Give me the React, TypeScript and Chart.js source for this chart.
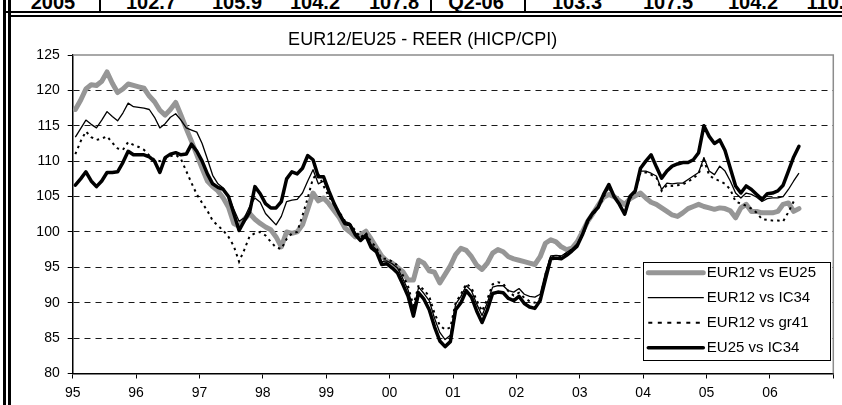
import React, { useEffect, useRef } from 'react';
import { Chart, registerables } from 'chart.js';

Chart.register(...registerables);

const FONT = 'Arial, "Liberation Sans", Helvetica, sans-serif';

const chartTitle = 'EUR12/EU25 - REER (HICP/CPI)';
const yearLabels = ['95', '96', '97', '98', '99', '00', '01', '02', '03', '04', '05', '06'];
const monthsOnAxis = 144;
const yMin = 80;
const yMax = 125;
const yStep = 5;

const seriesNames = ['EUR12 vs EU25', 'EUR12 vs IC34', 'EUR12 vs gr41', 'EU25 vs IC34'];

// monthly values, Jan 1995 .. Jun 2006
const eur12VsEu25 = [
  117.3, 118.6, 120.2, 120.8, 120.7, 121.3, 122.6, 121.0, 119.7, 120.2, 120.9, 120.7,
  120.5, 120.3, 119.2, 118.4, 117.2, 116.5, 117.3, 118.3, 116.5, 114.6, 112.8, 110.9,
  109.0, 107.2, 106.4, 105.8, 104.8, 103.5, 101.2, 100.8, 101.8, 102.6, 101.8, 101.2,
  100.7, 100.3, 99.3, 97.9, 100.0, 99.8, 100.0, 101.0, 103.2, 105.5, 104.4, 104.8,
  104.0, 103.0, 102.0, 100.6, 100.0, 99.3, 99.6, 100.1, 99.0, 97.8, 96.6, 95.9,
  95.6, 95.0, 94.4, 93.2, 93.2, 96.0, 95.6, 94.5, 94.3, 92.8, 94.0, 95.2,
  96.8, 97.7, 97.4, 96.5, 95.3, 94.7, 95.6, 97.0, 97.5, 97.2, 96.5, 96.2,
  96.0, 95.8, 95.6, 95.4, 96.5, 98.4, 98.9, 98.6, 97.9, 97.5, 97.7, 98.6,
  100.0, 101.5, 102.6, 103.8, 104.9, 105.3, 105.0, 104.4, 103.9, 104.7, 105.1, 105.5,
  104.8, 104.2, 103.9, 103.4, 102.9, 102.4, 102.2, 102.7, 103.3, 103.6, 103.9, 103.6,
  103.4, 103.2, 103.4, 103.3, 103.0, 102.0, 103.4, 103.9, 102.9, 102.9, 102.7, 102.7,
  102.7, 102.9, 103.9, 104.1, 102.9, 103.3,
];

const eur12VsIc34 = [
  113.4, 114.6, 115.8, 115.2, 114.7, 115.8, 117.0, 116.3, 115.7, 116.8, 118.2, 117.7,
  117.6, 117.5, 117.3, 116.2, 114.7, 115.3, 116.2, 116.7, 115.8, 114.7, 114.4, 114.1,
  112.5, 110.3, 108.0, 106.8, 106.2, 105.0, 103.2, 101.5, 102.0, 103.6, 104.8, 104.2,
  102.6, 101.8, 101.0, 102.2, 104.3, 104.5, 104.6, 105.5, 107.2, 108.8, 106.8, 107.2,
  105.5, 104.0, 102.8, 101.5, 101.2, 99.9, 99.0, 99.7, 98.2, 97.5, 95.8, 95.9,
  95.5, 94.9, 93.4, 91.8, 89.0, 92.2, 91.3, 90.3, 87.8, 85.8, 84.8, 85.4,
  89.8, 90.9, 92.4, 91.7, 89.8, 88.2, 90.0, 92.2, 92.4, 92.4, 91.7, 91.5,
  92.0, 91.2, 90.9, 90.8, 91.2, 94.2, 96.6, 96.7, 96.6, 97.1, 97.6, 98.3,
  99.7, 101.4, 102.5, 103.3, 105.0, 106.4, 105.0, 104.0, 102.6, 104.8, 105.8, 108.6,
  108.6, 108.3, 107.9, 106.0, 106.9, 106.8, 106.9, 106.9, 107.4, 107.9, 108.4, 110.5,
  108.6, 108.1, 109.3, 108.6, 107.2, 105.5, 104.8, 105.5, 105.3, 104.9, 104.3, 104.7,
  104.8, 104.8, 105.0, 106.0, 107.2, 108.3,
];

const eur12VsGr41 = [
  111.0, 112.8, 114.2, 113.4, 113.0, 113.2, 113.5, 112.6, 111.8, 111.6, 112.7, 112.3,
  112.0, 111.6, 110.8, 110.2, 110.0, 110.3, 110.7, 110.9, 110.3, 108.6, 106.9, 105.3,
  104.1, 103.0, 101.6, 100.9, 100.2, 99.3, 98.0, 95.8, 97.5, 99.4, 99.8, 100.0,
  99.5, 98.6, 97.8, 97.6, 99.0, 99.8, 100.0, 102.3, 104.8, 107.6, 108.2, 106.5,
  105.0, 103.8, 102.8, 101.6, 101.1, 100.2, 99.2, 99.9, 98.6, 97.8, 96.2, 96.2,
  95.8, 95.3, 93.9, 92.3, 89.6, 92.5, 91.8, 90.9, 88.5, 86.8, 86.2, 86.5,
  90.0, 91.2, 92.7, 92.1, 90.3, 88.8, 90.5, 92.6, 92.9, 92.7, 91.6, 91.0,
  91.4, 90.7, 90.2, 90.0, 90.6, 94.0, 96.4, 96.5, 96.5, 97.0, 97.5, 98.2,
  99.6, 101.3, 102.5, 103.3, 104.9, 106.3, 104.9, 103.9, 102.5, 104.7, 105.6, 108.4,
  108.4, 108.1, 107.7, 105.8, 106.6, 106.5, 106.6, 106.7, 107.1, 107.6, 108.2, 110.2,
  108.0, 107.5, 107.2, 106.8, 106.0, 104.3, 104.0, 103.7, 103.3, 102.7, 101.8, 101.7,
  101.6, 101.6, 101.5, 102.8, 104.3,
];

const eu25VsIc34 = [
  106.6, 107.5, 108.5, 107.2, 106.4, 107.2, 108.4, 108.4, 108.5, 109.8, 111.4, 110.9,
  110.9, 110.9, 110.6, 110.0, 108.4, 110.5, 111.0, 111.2, 110.9, 111.0, 112.4, 111.4,
  110.0, 108.2, 106.8, 106.3, 106.0, 105.0, 102.6, 100.2, 101.6, 102.8, 106.4, 105.4,
  104.0, 103.4, 103.4, 104.3, 107.5, 108.5, 108.2, 109.0, 110.8, 110.2, 107.8, 107.8,
  105.8, 104.0, 102.5, 101.2, 101.0, 99.6, 98.8, 99.5, 97.8, 97.2, 95.4, 95.5,
  94.9, 94.2, 92.6, 90.9, 88.1, 91.4, 90.5, 89.0, 86.6, 84.6, 83.8, 84.5,
  89.0, 90.0, 91.7, 90.8, 88.8, 87.2, 89.0, 91.3, 91.5, 91.4, 90.6, 90.3,
  90.9, 89.9, 89.4, 89.2, 90.3, 93.3, 96.2, 96.3, 96.2, 96.7, 97.3, 98.0,
  99.6, 101.6, 102.7, 103.5, 105.3, 106.7, 105.0, 103.9, 102.5, 105.0, 105.8, 109.0,
  110.0, 110.9, 109.2, 107.6, 108.6, 109.3, 109.6, 109.8, 109.8, 110.2, 111.2, 115.0,
  113.5, 112.5, 113.0, 111.5, 109.0, 106.5, 105.5, 106.5, 106.0, 105.3, 104.6, 105.4,
  105.5, 105.8, 106.6, 108.6, 110.6, 112.1,
];

// header row of the table above the chart (cut off at the top of the picture)
const headerCells = ['2005', '102.7', '105.9', '104.2', '107.8', 'Q2-06', '103.3', '107.5', '104.2', '110.0'];
const headerCenters = [53, 151, 237, 315, 394, 476, 577, 668, 753, 831];
const headerSeparators = [99, 430, 524];

const toPoints = (values: number[]) => values.map((v, i) => ({ x: i + 0.5, y: v }));

const framePlugin = {
  id: 'plotFrame',
  beforeDatasetsDraw(chart: any) {
    const { ctx, chartArea: a } = chart;
    ctx.save();
    ctx.strokeStyle = '#8c8c8c';
    ctx.lineWidth = 1.5;
    ctx.beginPath();
    ctx.moveTo(a.left, a.top);
    ctx.lineTo(a.right, a.top);
    ctx.lineTo(a.right, a.bottom);
    ctx.stroke();
    ctx.restore();
  },
};

const boxLegendPlugin = {
  id: 'boxLegend',
  afterDatasetsDraw(chart: any) {
    const { ctx, chartArea: a } = chart;
    const w = 186.7;
    const h = 98.3;
    const left = a.right - 3.3 - w;
    const top = a.bottom - 13.5 - h;
    ctx.save();
    ctx.fillStyle = '#ffffff';
    ctx.fillRect(left, top, w, h);
    ctx.strokeStyle = '#000';
    ctx.lineWidth = 1;
    ctx.strokeRect(Math.round(left) + 0.5, Math.round(top) + 0.5, Math.round(w), Math.round(h));
    chart.data.datasets.forEach((ds: any, k: number) => {
      const y = top + 11 + k * 25;
      ctx.save();
      ctx.strokeStyle = ds.borderColor;
      ctx.lineWidth = ds.borderWidth;
      ctx.setLineDash(ds.legendDash || []);
      ctx.lineCap = ds.legendDash ? 'butt' : 'round';
      ctx.beginPath();
      ctx.moveTo(left + 5, y);
      ctx.lineTo(left + 60, y);
      ctx.stroke();
      ctx.restore();
      ctx.fillStyle = '#000';
      ctx.font = `15px ${FONT}`;
      ctx.textBaseline = 'middle';
      ctx.textAlign = 'left';
      ctx.fillText(ds.label, left + 63.5, y + 0.5);
    });
    ctx.restore();
  },
};

function ReerChart() {
  const ref = useRef<HTMLCanvasElement | null>(null);

  useEffect(() => {
    if (!ref.current) return;
    const chart = new Chart(ref.current, {
      type: 'line',
      data: {
        datasets: [
          {
            label: seriesNames[0],
            data: toPoints(eur12VsEu25),
            borderColor: '#969696',
            borderWidth: 5,
            order: 4,
            borderJoinStyle: 'round',
            borderCapStyle: 'round',
          },
          {
            label: seriesNames[1],
            data: toPoints(eur12VsIc34),
            borderColor: '#000000',
            borderWidth: 1.3,
            order: 3,
            borderJoinStyle: 'round',
          },
          {
            label: seriesNames[2],
            data: toPoints(eur12VsGr41),
            borderColor: '#000000',
            borderWidth: 2,
            borderDash: [2.5, 4],
            legendDash: [4, 5.5],
            order: 2,
          } as any,
          {
            label: seriesNames[3],
            data: toPoints(eu25VsIc34),
            borderColor: '#000000',
            borderWidth: 3.5,
            order: 1,
            borderJoinStyle: 'round',
            borderCapStyle: 'round',
          },
        ],
      },
      options: {
        responsive: false,
        maintainAspectRatio: false,
        animation: false,
        events: [],
        layout: { padding: { left: 0, right: 8.7, top: 0, bottom: 0 } },
        elements: { point: { radius: 0 }, line: { tension: 0 } },
        plugins: {
          legend: { display: false },
          tooltip: { enabled: false },
          title: {
            display: true,
            text: chartTitle,
            color: '#000',
            font: { family: FONT, size: 18, weight: 'normal' },
            padding: { top: 13.7, bottom: 3.7 },
          },
        },
        scales: {
          x: {
            type: 'linear',
            min: 0,
            max: monthsOnAxis,
            afterBuildTicks: (s: any) => {
              const t = yearLabels.map((_, k) => ({ value: k * 12 }));
              t.push({ value: monthsOnAxis });
              s.ticks = t;
            },
            afterFit: (s: any) => {
              s.height = 31.5;
            },
            ticks: {
              autoSkip: false,
              maxRotation: 0,
              color: '#000',
              padding: 6,
              font: { family: FONT, size: 14 },
              callback: (_v: any, i: number) => yearLabels[i] ?? '',
            },
            grid: {
              drawOnChartArea: false,
              drawTicks: true,
              tickLength: 5,
              tickColor: '#000',
              tickWidth: 1,
            },
            border: { display: true, color: '#000', width: 1.5 },
          },
          y: {
            type: 'linear',
            min: yMin,
            max: yMax,
            afterFit: (s: any) => {
              s.width = 60.7;
            },
            ticks: {
              stepSize: yStep,
              color: '#000',
              padding: 8,
              font: { family: FONT, size: 14 },
            },
            grid: {
              color: (c: any) =>
                c.tick && (c.tick.value === yMin || c.tick.value === yMax) ? 'rgba(0,0,0,0)' : '#1a1a1a',
              lineWidth: 1,
              tickLength: 5,
              tickColor: '#000',
              tickWidth: 1,
            },
            border: { display: true, color: '#000', width: 1.5, dash: [6, 5] },
          },
        },
      },
      plugins: [framePlugin, boxLegendPlugin],
    } as any);
    return () => chart.destroy();
  }, []);

  return (
    <canvas
      ref={ref}
      width={830}
      height={389}
      style={{ position: 'absolute', left: 12, top: 16 }}
    />
  );
}

export default function App() {
  const line = (l: number, t: number, w: number, h: number) => (
    <div style={{ position: 'absolute', left: l, top: t, width: w, height: h, background: '#000' }} />
  );
  return (
    <div
      style={{
        position: 'fixed',
        left: 0,
        top: 0,
        width: 842,
        height: 405,
        background: '#fff',
        overflow: 'hidden',
        fontFamily: FONT,
      }}
    >
      {headerCells.map((txt, k) => (
        <div
          key={txt + k}
          style={{
            position: 'absolute',
            left: headerCenters[k] - 40,
            width: 80,
            top: -8,
            lineHeight: '20px',
            fontSize: 20,
            fontWeight: 'bold',
            textAlign: 'center',
            color: '#000',
            whiteSpace: 'nowrap',
          }}
        >
          {txt}
        </div>
      ))}
      <ReerChart />
      {headerSeparators.map((x) => (
        <React.Fragment key={x}>{line(x, 0, 2, 12)}</React.Fragment>
      ))}
      {line(3, 0, 3, 405)}
      {line(8, 0, 3, 405)}
      {line(3, 11, 839, 2)}
      {line(8, 15, 834, 2)}
    </div>
  );
}
